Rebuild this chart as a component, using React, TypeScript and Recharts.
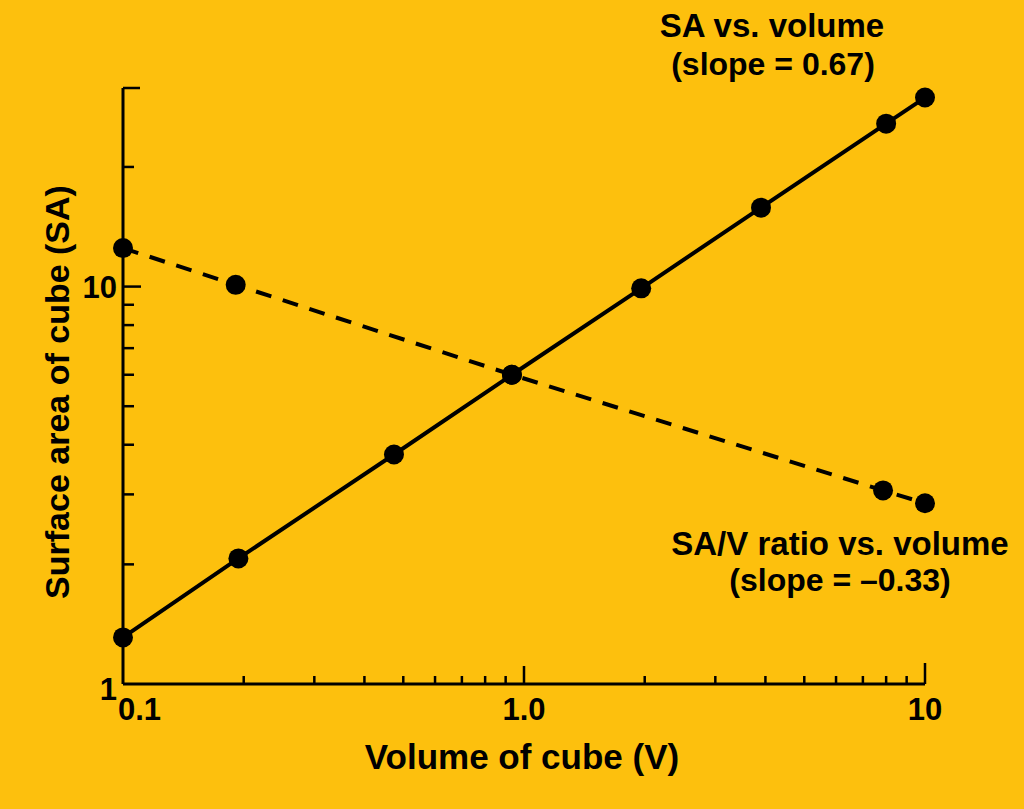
import React from "react";
import { LineChart, Line, XAxis, YAxis } from "recharts";

// values (log–log plot)
const saVolume = [0.1, 0.194, 0.474, 0.933, 1.96, 3.9, 8.0, 10];
const saValues = [1.31, 2.07, 3.78, 6.0, 9.9, 15.8, 25.7, 29.9];
const ratioVolume = [0.1, 0.191, 0.933, 7.86, 10];
const ratioValues = [12.5, 10.1, 6.0, 3.07, 2.85];

const xTicks = [0.1, 0.2, 0.3, 0.4, 0.5, 0.6, 0.7, 0.8, 0.9, 1, 2, 3, 4, 5, 6, 7, 8, 9, 10];
const xLabels: Record<string, string> = { "0.1": "0.1", "1": "1.0", "10": "10" };
const yTicks = [1, 2, 3, 4, 5, 6, 7, 8, 9, 10, 20, 31.6];
const yLabels: Record<string, string> = { "1": "1", "10": "10" };

const saData = saVolume.map((v, i) => ({ v, sa: saValues[i] }));
const ratioData = ratioVolume.map((v, i) => ({ v, ratio: ratioValues[i] }));

const BG = "#FDC00D";
const FONT = "'Liberation Sans', Arial, sans-serif";

function XTick({ x, y, payload }: any) {
  const v = payload.value;
  const len = v === 10 ? 21 : v === 1 ? 18 : v === 0.1 ? 0 : 8;
  const label = xLabels[String(v)];
  return (
    <g>
      {len > 0 && <line x1={x} x2={x} y1={y} y2={y - len} stroke="#000" strokeWidth={2.5} />}
      {label && (
        <text
          x={v === 0.1 ? x - 5 : x}
          y={y + 36}
          textAnchor={v === 0.1 ? "start" : "middle"}
          fontSize={31}
          fontWeight={700}
          fontFamily={FONT}
          fill="#000"
        >
          {label}
        </text>
      )}
    </g>
  );
}

function YTick({ x, y, payload }: any) {
  const v = payload.value;
  const len = v === 10 ? 18 : v === 31.6 ? 17 : v === 1 ? 0 : 11;
  const label = yLabels[String(v)];
  return (
    <g>
      {len > 0 && <line x1={x} x2={x + len} y1={y} y2={y} stroke="#000" strokeWidth={2.5} />}
      {label && (
        <text
          x={x - 6}
          y={v === 1 ? y + 16 : y + 11}
          textAnchor="end"
          fontSize={31}
          fontWeight={700}
          fontFamily={FONT}
          fill="#000"
        >
          {label}
        </text>
      )}
    </g>
  );
}

const textStyle = { fontFamily: FONT, fontWeight: 700, fill: "#000" } as const;

export default function App() {
  return (
    <div style={{ position: "absolute", left: 0, top: 0, width: 1024, height: 809, background: BG }}>
      <LineChart width={1024} height={809} margin={{ top: 88, right: 99, bottom: 0, left: 0 }}>
        <XAxis
          dataKey="v"
          type="number"
          scale="log"
          domain={[0.1, 10]}
          ticks={xTicks}
          interval={0}
          height={125}
          tickSize={0}
          tickMargin={0}
          tickLine={false}
          axisLine={{ stroke: "#000", strokeWidth: 3 }}
          tick={<XTick />}
        />
        <YAxis
          type="number"
          scale="log"
          domain={[1, 31.6]}
          ticks={yTicks}
          interval={0}
          width={123}
          tickSize={0}
          tickMargin={0}
          tickLine={false}
          axisLine={{ stroke: "#000", strokeWidth: 3 }}
          tick={<YTick />}
        />
        <Line
          data={ratioData}
          dataKey="ratio"
          stroke="#000"
          strokeWidth={4}
          strokeDasharray="16 12"
          dot={{ r: 10, fill: "#000", stroke: "none" }}
          isAnimationActive={false}
        />
        <Line
          data={saData}
          dataKey="sa"
          stroke="#000"
          strokeWidth={4}
          dot={{ r: 10, fill: "#000", stroke: "none" }}
          isAnimationActive={false}
        />
        <text x={522} y={769} textAnchor="middle" fontSize={35} style={textStyle}>
          Volume of cube (V)
        </text>
        <text
          x={69}
          y={392}
          textAnchor="middle"
          fontSize={34}
          transform="rotate(-90 69 392)"
          style={textStyle}
        >
          Surface area of cube (SA)
        </text>
        <text x={772} y={37} textAnchor="middle" fontSize={33} style={textStyle}>
          SA vs. volume
        </text>
        <text x={773} y={75} textAnchor="middle" fontSize={32} style={textStyle}>
          (slope = 0.67)
        </text>
        <text x={840} y={555} textAnchor="middle" fontSize={33} style={textStyle}>
          SA/V ratio vs. volume
        </text>
        <text x={840} y={591} textAnchor="middle" fontSize={32} style={textStyle}>
          (slope = –0.33)
        </text>
      </LineChart>
    </div>
  );
}
